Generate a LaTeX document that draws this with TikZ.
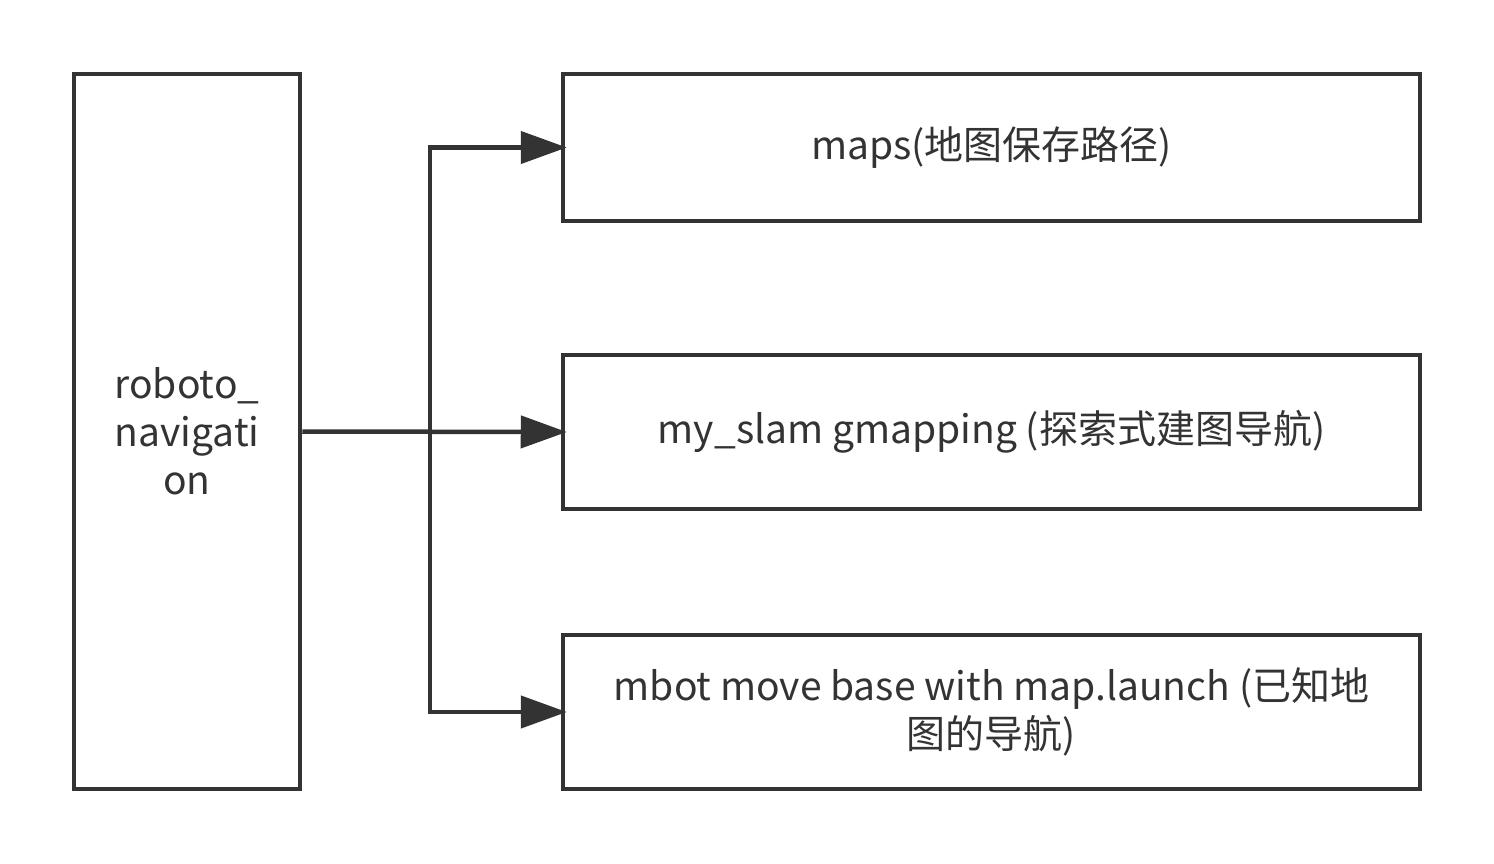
\documentclass[tikz,border=0pt]{standalone}
\usepackage{fontspec}
\setmainfont{Noto Sans CJK SC}
\usetikzlibrary{arrows.meta}
\definecolor{ink}{HTML}{333333}
\tikzstyle{block} = [rectangle, draw=ink, line width=4.5pt, align=center, text=ink, font=\fontsize{39}{48}\selectfont]
\tikzstyle{arrow} = [draw=ink, line width=4.5pt, shorten >=-6pt, -{Triangle[length=46pt,width=32pt]}]

\begin{document}
\begin{tikzpicture}[x=1pt, y=-1pt]
\useasboundingbox (0,0) rectangle (1494,864);

\node [block, minimum width=226pt, minimum height=715pt] (nav) at (187,431.5) {roboto\_\\navigati\\on};
\node [block, minimum width=857pt, minimum height=147pt] (maps) at (991.5,147.5) {maps(地图保存路径)};
\node [block, minimum width=857pt, minimum height=154pt] (slam) at (991.5,432) {my\_slam gmapping (探索式建图导航)};
\node [block, minimum width=857pt, minimum height=154pt] (mbot) at (991.5,712) {mbot move base with map.launch (已知地\\图的导航)};

\coordinate (split) at (430,432);

\draw [arrow] (nav.east) -- (slam.west);
\draw [arrow] (split) |- (maps.west);
\draw [arrow] (split) |- (mbot.west);
\end{tikzpicture}
\end{document}
